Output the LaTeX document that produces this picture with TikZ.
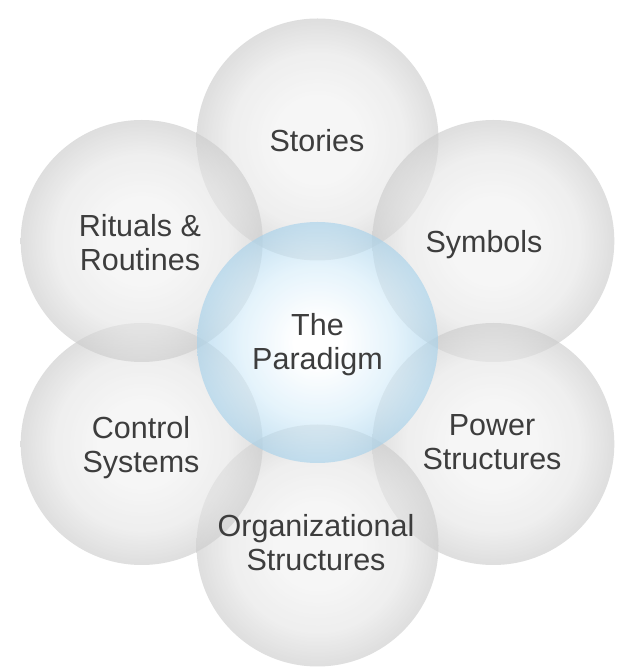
\documentclass[tikz,border=0pt]{standalone}
\usepackage{fontspec}
\setmainfont{Liberation Sans}
\definecolor{gA}{rgb}{0.95,0.95,0.95}
\definecolor{gB}{rgb}{0.90,0.90,0.90}
\definecolor{gC}{rgb}{0.80,0.80,0.80}
\definecolor{bA}{rgb}{1,1,1}
\definecolor{bB}{rgb}{0.84,0.93,0.98}
\definecolor{bC}{rgb}{0.65,0.82,0.92}
\definecolor{txt}{rgb}{0.24,0.24,0.24}
\pgfdeclareradialshading{grayball}{\pgfpoint{0bp}{0bp}}{color(0bp)=(gA); color(8bp)=(gA); color(18bp)=(gB); color(25bp)=(gC); color(50bp)=(gC)}
\pgfdeclareradialshading{blueball}{\pgfpoint{0bp}{0bp}}{color(0bp)=(bA); color(5bp)=(bA); color(16bp)=(bB); color(25bp)=(bC); color(50bp)=(bC)}
\tikzset{
  ball/.style={circle, inner sep=0pt, minimum size=242pt, shade, shading=grayball, fill opacity=0.64, draw=none},
  hub/.style={circle, inner sep=0pt, minimum size=241pt, shade, shading=blueball, fill opacity=0.64, draw=none},
  lbl/.style={anchor=base, align=center, text=txt, inner sep=0pt,
    font=\fontsize{30.5pt}{34.5pt}\selectfont}
}
\begin{document}
\begin{tikzpicture}[x=1pt,y=1pt]
\fill[white] (0,0) rectangle (625,670);
\useasboundingbox (0,0) rectangle (625,670);
\node[ball] (stories) at (317.5,530.5) {};
\node[ball] (symbols) at (493.3,429) {};
\node[ball] (power)   at (493.3,226) {};
\node[ball] (org)     at (317.5,124.5) {};
\node[ball] (control) at (141.7,226) {};
\node[ball] (rituals) at (141.7,429) {};
\node[hub]  (paradigm) at (317.5,327.5) {};
\node[lbl] (tStories) at (317,518) {Stories};
\node[lbl] (tSymbols) at (484,417) {Symbols};
\node[lbl] (tRituals) at (140,399) {Rituals \&\\Routines};
\node[lbl] (tControl) at (141,197) {Control\\Systems};
\node[lbl] (tPower) at (492,200) {Power\\Structures};
\node[lbl] (tParadigm) at (317.5,300) {The\\Paradigm};
\node[lbl] (tOrg) at (316,99) {Organizational\\Structures};
\end{tikzpicture}
\end{document}
